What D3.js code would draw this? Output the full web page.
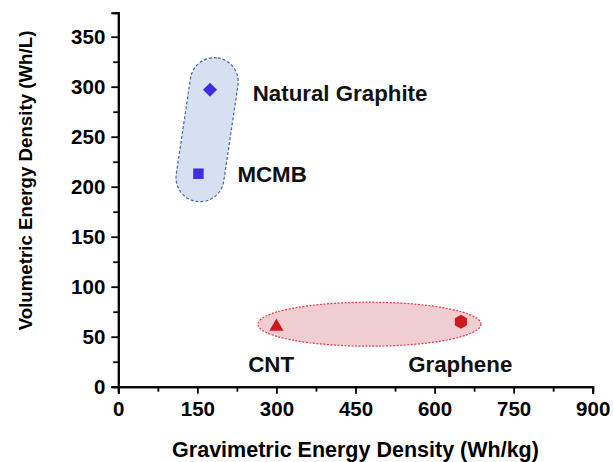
<!DOCTYPE html>
<html><head><meta charset="utf-8">
<script src="https://cdn.jsdelivr.net/npm/d3@7"></script>
<style>body{margin:0;background:#fff}text{font-family:"Liberation Sans",Arial,sans-serif;font-weight:bold}</style>
</head><body><svg id="c" width="613" height="462"></svg>
<script>
const materials = ["Natural Graphite","MCMB","CNT","Graphene"];
const gravimetric = [174, 152, 300, 650];
const volumetric = [297, 213, 60, 65];
const symbols = ["diamond","square","triangle","hexagon"];
const groups = ["graphite","graphite","carbon","carbon"];
const xTicks = [0,150,300,450,600,750,900];
const yTicks = [0,50,100,150,200,250,300,350];
// label anchor positions in data units
const labelX = [255, 226, 246.5, 550];
const labelY = [286, 205, 15, 15];
// highlight regions (data units)
const blueCapsule = {x1:182, y1:305, x2:155, y2:209};
const redEllipse = {cx:476.5, cy:62.5, rx:211.5, ry:22};

const svg = d3.select("#c");
const m = {l:118.3, r:20.3, t:12.7, b:75.3};
const W = 613, H = 462;
const x = d3.scaleLinear().domain([0,900]).range([m.l, W-m.r]);
const y = d3.scaleLinear().domain([0,374]).range([H-m.b, m.t]);

// blue capsule
(function(){
  const p1=[x(blueCapsule.x1),y(blueCapsule.y1)], p2=[x(blueCapsule.x2),y(blueCapsule.y2)];
  const cx=(p1[0]+p2[0])/2, cy=(p1[1]+p2[1])/2;
  const len=Math.hypot(p2[0]-p1[0],p2[1]-p1[1]);
  const ang=Math.atan2(p1[0]-p2[0], p2[1]-p1[1])*180/Math.PI;
  const r=24;
  svg.append("rect").attr("x",cx-r).attr("y",cy-len/2-r).attr("width",2*r).attr("height",len+2*r)
    .attr("rx",r).attr("ry",r)
    .attr("transform",`rotate(${ang},${cx},${cy})`)
    .attr("fill","#d6e0f0").attr("stroke","#4a68a8").attr("stroke-width",1.2).attr("stroke-dasharray","3,2");
})();
// red ellipse
svg.append("ellipse").attr("cx",x(redEllipse.cx)).attr("cy",y(redEllipse.cy))
  .attr("rx",x(redEllipse.rx)-x(0)).attr("ry",y(0)-y(redEllipse.ry))
  .attr("fill","#f0cdd0").attr("stroke","#e03a42").attr("stroke-width",1.2).attr("stroke-dasharray","2,1.5");

// axes
const xAxis = d3.axisBottom(x).tickValues(xTicks).tickSize(7).tickPadding(8).tickFormat(d3.format("d"));
const xMinor = d3.axisBottom(x).tickValues(d3.range(75,900,150)).tickSize(5).tickFormat("");
const yAxis = d3.axisLeft(y).tickValues(yTicks).tickSize(7).tickPadding(6).tickFormat(d3.format("d"));
const yMinor = d3.axisLeft(y).tickValues(d3.range(25,374,50)).tickSize(5).tickFormat("");
function style(g){g.select(".domain").attr("stroke","#000").attr("stroke-width",2);g.selectAll(".tick line").attr("stroke","#000").attr("stroke-width",1.8);g.selectAll("text").attr("font-size",20.5).attr("fill","#000").attr("font-family","Liberation Sans, Arial, sans-serif").attr("font-weight","bold");}
svg.append("g").attr("transform",`translate(0,${y(0)})`).call(xMinor).call(style);
svg.append("g").attr("transform",`translate(0,${y(0)})`).call(xAxis).call(style);
svg.append("g").attr("transform",`translate(${x(0)},0)`).call(yMinor).call(style);
svg.append("g").attr("transform",`translate(${x(0)},0)`).call(yAxis).call(style);

// markers
const symMap = {diamond:d3.symbolDiamond2, square:d3.symbolSquare, triangle:d3.symbolTriangle};
const symSize = {diamond:125, square:110, triangle:88};
const colors = {graphite:"#3c2fe0", carbon:"#cc1a20"};
materials.forEach((name,i)=>{
  const px=x(gravimetric[i]), py=y(volumetric[i]);
  if(symbols[i]==="hexagon"){
    const r=7, pts=d3.range(6).map(k=>{const a=Math.PI/6+k*Math.PI/3;return [px+r*Math.cos(a),py+r*Math.sin(a)];});
    svg.append("path").attr("d","M"+pts.join("L")+"Z").attr("fill",colors[groups[i]]);
  } else {
    svg.append("path").attr("d",d3.symbol().type(symMap[symbols[i]]).size(symSize[symbols[i]])())
      .attr("transform",`translate(${px},${py})`)
      .attr("fill",colors[groups[i]]);
  }
  svg.append("text").attr("x",x(labelX[i])).attr("y",y(labelY[i])).attr("font-size",22.3).attr("fill","#111").text(name);
});

// titles
svg.append("text").attr("x",(x(0)+x(900))/2).attr("y",457).attr("text-anchor","middle").attr("font-size",21.5).text("Gravimetric Energy Density (Wh/kg)");
svg.append("text").attr("transform",`translate(32.3,180.5) rotate(-90)`).attr("text-anchor","middle").attr("font-size",18.7).text("Volumetric Energy Density (Wh/L)");
</script></body></html>
